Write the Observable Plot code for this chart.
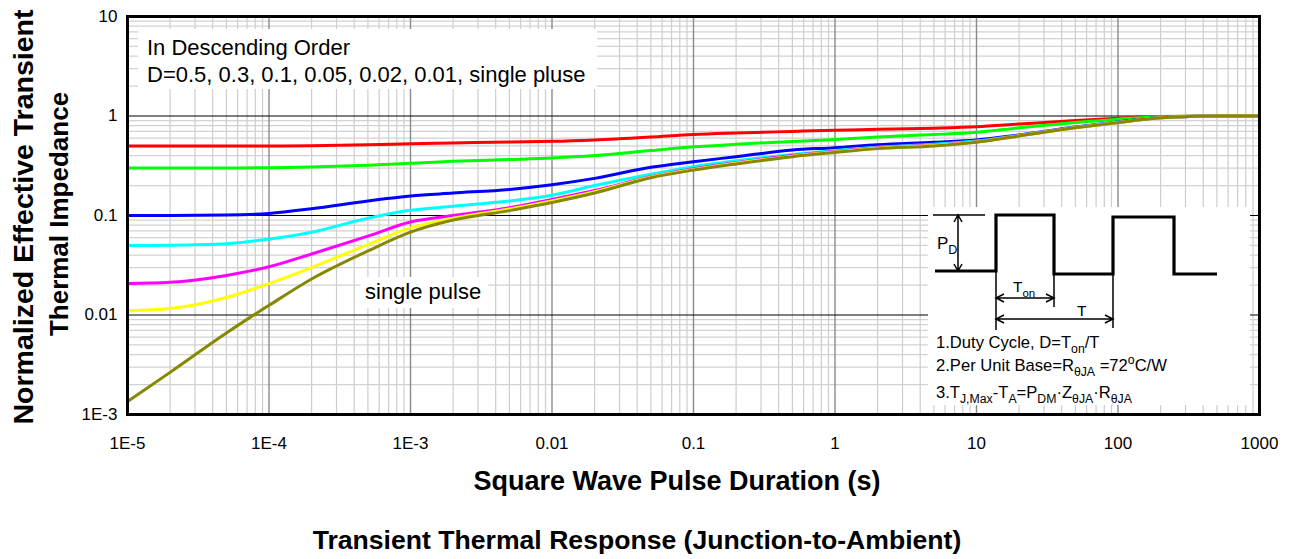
<!DOCTYPE html>
<html>
<head>
<meta charset="utf-8">
<script src="https://cdn.jsdelivr.net/npm/d3@7"></script>
<script src="https://cdn.jsdelivr.net/npm/@observablehq/plot@0.6"></script>
<style>
  html, body { margin: 0; padding: 0; background: #fff; }
  #chart svg { display: block; }
</style>
</head>
<body>
<div id="chart"></div>
<script>
// Pulse durations (s) at which each curve is sampled
const pulseDuration = [1e-5, 2e-5, 5e-5, 1e-4, 2e-4, 5e-4, 1e-3, 2e-3, 5e-3, 1e-2, 2e-2, 5e-2,
  0.1, 0.2, 0.5, 1, 2, 5, 10, 20, 50, 100, 200, 500, 1000];

// Normalized transient thermal impedance ZθJA(t) for each duty cycle
const zD050 = [0.5, 0.5, 0.5, 0.5, 0.503, 0.513, 0.525, 0.535, 0.548, 0.556, 0.575, 0.615,
  0.652, 0.675, 0.7, 0.72, 0.735, 0.755, 0.78, 0.83, 0.9, 0.95, 0.99, 1, 1];
const zD030 = [0.3, 0.3, 0.3, 0.302, 0.307, 0.32, 0.335, 0.35, 0.365, 0.378, 0.4, 0.45,
  0.49, 0.52, 0.555, 0.58, 0.615, 0.65, 0.686, 0.76, 0.86, 0.93, 0.985, 1, 1];
const zD010 = [0.1, 0.1, 0.101, 0.105, 0.117, 0.14, 0.157, 0.168, 0.183, 0.204, 0.236, 0.305,
  0.347, 0.39, 0.455, 0.48, 0.515, 0.545, 0.574, 0.645, 0.775, 0.87, 0.965, 1, 1];
const zD005 = [0.05, 0.0503, 0.052, 0.058, 0.068, 0.094, 0.113, 0.124, 0.14, 0.16, 0.2, 0.26,
  0.31, 0.355, 0.41, 0.45, 0.485, 0.52, 0.56, 0.64, 0.77, 0.865, 0.96, 1, 1];
const zD002 = [0.0207, 0.0213, 0.025, 0.0305, 0.041, 0.062, 0.086, 0.1, 0.12, 0.145, 0.178, 0.245,
  0.295, 0.34, 0.4, 0.44, 0.48, 0.51, 0.552, 0.635, 0.765, 0.862, 0.96, 1, 1];
const zD001 = [0.011, 0.0116, 0.015, 0.0207, 0.03, 0.051, 0.075, 0.094, 0.116, 0.14, 0.173, 0.243,
  0.29, 0.335, 0.395, 0.435, 0.475, 0.505, 0.548, 0.632, 0.762, 0.86, 0.96, 1, 1];
const zSingle = [0.00135, 0.00265, 0.0066, 0.0125, 0.023, 0.044, 0.068, 0.09, 0.112, 0.135, 0.168, 0.24,
  0.286, 0.33, 0.39, 0.43, 0.47, 0.5, 0.544, 0.63, 0.76, 0.858, 0.958, 1, 1];

const seriesNames = ["D=0.5", "D=0.3", "D=0.1", "D=0.05", "D=0.02", "D=0.01", "single pulse"];
const seriesValues = [zD050, zD030, zD010, zD005, zD002, zD001, zSingle];
const seriesColors = ["#ff0000", "#00ff00", "#0000ff", "#00ffff", "#ff00ff", "#ffff00", "#878700"];

// Axis ticks
const xTickValues = [1e-5, 1e-4, 1e-3, 1e-2, 0.1, 1, 10, 100, 1000];
const xTickLabels = ["1E-5", "1E-4", "1E-3", "0.01", "0.1", "1", "10", "100", "1000"];
const yTickValues = [1e-3, 1e-2, 0.1, 1, 10];
const yTickLabels = ["1E-3", "0.01", "0.1", "1", "10"];

// Long-format rows for Plot
const rows = seriesNames.flatMap((name, s) =>
  pulseDuration.map((t, i) => ({t, z: seriesValues[s][i], series: name})));

// Minor log grid (2..9 within every decade)
const minorOf = (decades) => decades.flatMap(d => [2, 3, 4, 5, 6, 7, 8, 9].map(k => k * d));
const minorX = minorOf(xTickValues.slice(0, -1));
const minorY = minorOf(yTickValues.slice(0, -1));

const FONT = "'Liberation Sans', Arial, Helvetica, sans-serif";

const plot = Plot.plot({
  width: 1295,
  height: 559,
  marginLeft: 127,
  marginRight: 36,
  marginTop: 16,
  marginBottom: 145,
  style: {fontFamily: FONT, fontSize: "17px", color: "#000", background: "#fff", overflow: "visible"},
  x: {type: "log", domain: [1e-5, 1000]},
  y: {type: "log", domain: [1e-3, 10]},
  color: {domain: seriesNames, range: seriesColors},
  marks: [
    Plot.ruleX(minorX, {stroke: "#cdcdcd", strokeWidth: 1.2}),
    Plot.ruleY(minorY, {stroke: "#d2d2d2", strokeWidth: 1.2}),
    Plot.ruleX(xTickValues, {stroke: "#8a8a8a", strokeWidth: 1.4}),
    Plot.ruleY(yTickValues, {stroke: "#000", strokeWidth: 1.2}),
    Plot.line(rows, {x: "t", y: "z", z: "series", stroke: "series", strokeWidth: 3, curve: "monotone-x"}),
    Plot.axisX({ticks: xTickValues, tickFormat: d => xTickLabels[xTickValues.indexOf(d)],
      tickSize: 0, tickPadding: 22, label: null, fontSize: 17}),
    Plot.axisY({ticks: yTickValues, tickFormat: d => yTickLabels[yTickValues.indexOf(d)],
      tickSize: 0, tickPadding: 10, label: null, fontSize: 17}),
    Plot.frame({stroke: "#000", strokeWidth: 3})
  ]
});

document.getElementById("chart").append(plot);

const svg = d3.select(plot);
const ann = svg.append("g").attr("font-family", FONT).attr("fill", "#000").attr("text-anchor", "start");

// Text with sub/superscripts: parts = [[text, "" | "sub" | "sup"], ...]
function richText(g, x, y, size, parts, anchor = "start") {
  const t = g.append("text").attr("x", x).attr("y", y).attr("font-size", size)
    .attr("text-anchor", anchor);
  let offset = 0;
  for (const [str, mode] of parts) {
    const target = mode === "sub" ? size * 0.3 : mode === "sup" ? -size * 0.42 : 0;
    t.append("tspan").attr("dy", target - offset)
      .attr("font-size", mode ? size * 0.74 : size).text(str);
    offset = target;
  }
  return t;
}

// Legend note, top left
ann.append("rect").attr("x", 138).attr("y", 29).attr("width", 459).attr("height", 60).attr("fill", "#fff");
ann.append("text").attr("x", 147).attr("y", 55).attr("font-size", 22).text("In Descending Order");
ann.append("text").attr("x", 147).attr("y", 82).attr("font-size", 22)
  .text("D=0.5, 0.3, 0.1, 0.05, 0.02, 0.01, single pluse");

// Single-pulse label
ann.append("rect").attr("x", 360).attr("y", 277).attr("width", 128).attr("height", 31).attr("fill", "#fff");
ann.append("text").attr("x", 365).attr("y", 299).attr("font-size", 22).text("single pulse");

// Duty-cycle definition inset
const inset = ann.append("g").attr("transform", "translate(928,207)");
inset.append("rect").attr("width", 322).attr("height", 198).attr("fill", "#fff");
const thin = {stroke: "#000", "stroke-width": 1.5, fill: "none"};
const applyAttrs = (sel, attrs) => { for (const k in attrs) sel.attr(k, attrs[k]); return sel; };
// square wave
applyAttrs(inset.append("path"), {stroke: "#000", "stroke-width": 3.2, fill: "none", "stroke-linejoin": "miter"})
  .attr("d", "M7,64 H68 V8 H126 V67 H185 V10 H246 V67 H289");
// P_D reference line and arrow
applyAttrs(inset.append("path"), thin).attr("d", "M5,8 H57");
const vArrow = (x, y1, y2) => `M${x - 4},${y1 + 7} L${x},${y1} L${x + 4},${y1 + 7} M${x},${y1} V${y2} M${x - 4},${y2 - 7} L${x},${y2} L${x + 4},${y2 - 7}`;
const hArrow = (y, x1, x2) => `M${x1 + 8},${y - 4} L${x1},${y} L${x1 + 8},${y + 4} M${x1},${y} H${x2} M${x2 - 8},${y - 4} L${x2},${y} L${x2 - 8},${y + 4}`;
applyAttrs(inset.append("path"), thin).attr("d", vArrow(30, 8, 64));
richText(inset, 9, 42, 17, [["P", ""], ["D", "sub"]]);
// extension lines
applyAttrs(inset.append("path"), thin).attr("d", "M68,64 V123 M126,67 V100 M185,67 V121");
// T_on and T arrows
applyAttrs(inset.append("path"), thin).attr("d", hArrow(91, 68, 126));
applyAttrs(inset.append("path"), thin).attr("d", hArrow(112, 68, 185));
richText(inset, 85, 85, 15.5, [["T", ""], ["on", "sub"]]);
inset.append("text").attr("x", 149).attr("y", 109).attr("font-size", 15.5).text("T");
// notes
richText(inset, 8, 141, 16.6, [["1.Duty Cycle, D=T", ""], ["on", "sub"], ["/T", ""]]);
richText(inset, 8, 164, 16.6, [["2.Per Unit Base=R", ""], ["θJA", "sub"], [" =72", ""], ["o", "sup"], ["C/W", ""]]);
richText(inset, 8, 191, 16.6, [["3.T", ""], ["J,Max", "sub"], ["-T", ""], ["A", "sub"], ["=P", ""], ["DM", "sub"],
  ["·Z", ""], ["θJA", "sub"], ["·R", ""], ["θJA", "sub"]]);

// Axis titles and caption
const titles = svg.append("g").attr("font-family", FONT).attr("font-weight", "bold").attr("fill", "#000");
titles.append("text").attr("transform", "translate(33,217) rotate(-90)").attr("text-anchor", "middle")
  .attr("font-size", 28.5).text("Normalized Effective Transient");
titles.append("text").attr("transform", "translate(68,214) rotate(-90)").attr("text-anchor", "middle")
  .attr("font-size", 26).text("Thermal Impedance");
titles.append("text").attr("x", 677).attr("y", 490).attr("text-anchor", "middle")
  .attr("font-size", 27).text("Square Wave Pulse Duration (s)");
titles.append("text").attr("x", 637).attr("y", 549).attr("text-anchor", "middle")
  .attr("font-size", 26.6).text("Transient Thermal Response (Junction-to-Ambient)");
</script>
</body>
</html>
